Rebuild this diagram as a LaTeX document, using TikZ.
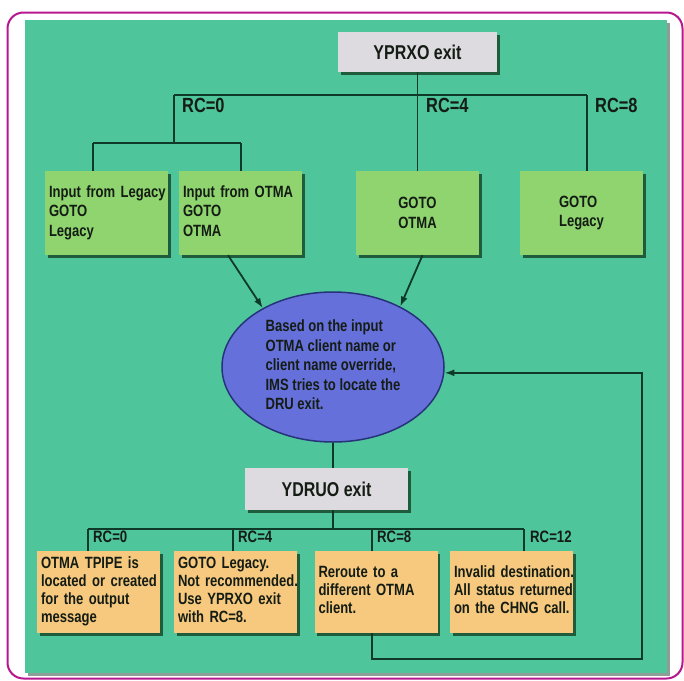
\documentclass[tikz,border=0pt]{standalone}
\usepackage{fontspec}
\setmainfont{Liberation Sans}[FakeStretch=0.8]
\usetikzlibrary{shapes.geometric,arrows.meta,shadows}
\definecolor{cpanel}{HTML}{4FC59C}
\definecolor{cpshadow}{HTML}{8E9E96}
\definecolor{clgreen}{HTML}{8FD46F}
\definecolor{corng}{HTML}{F6C97F}
\definecolor{cellfill}{HTML}{6670DA}
\definecolor{cellline}{HTML}{26337A}
\definecolor{cgray}{HTML}{DDDAE0}
\definecolor{cframe}{HTML}{B8188F}
\definecolor{cwire}{HTML}{0F3A2A}
\definecolor{cshade}{HTML}{1E5C3C}
\definecolor{cink}{HTML}{141C14}
\newcommand{\boxlines}[1]{\begin{tabular}{@{}l@{}}#1\end{tabular}}
\begin{document}
\begin{tikzpicture}[x=1pt,y=-1pt,
  wire/.style={draw=cwire, line width=1.8pt},
  arr/.style={wire, -{Latex[length=10pt,width=7pt]}},
  boxbase/.style={rectangle, draw=none, text=cink,
    drop shadow={shadow xshift=2.5pt, shadow yshift=-2.5pt, fill=cshade, opacity=1}},
  graybox/.style={boxbase, fill=cgray, inner sep=0pt, font=\bfseries\fontsize{20}{22}\selectfont},
  gbox/.style={boxbase, fill=clgreen, minimum width=123, minimum height=84, inner ysep=0pt},
  obox/.style={boxbase, fill=corng, minimum width=123, minimum height=82, inner ysep=0pt,
    text width=115, align=left, inner xsep=4pt, font=\bfseries\fontsize{16.3}{18}\selectfont},
  lbody/.style={text width=115, align=left, inner xsep=4pt, font=\bfseries\fontsize{16.3}{19.5}\selectfont},
  cbody/.style={align=left, font=\bfseries\fontsize{16.3}{19.5}\selectfont},
  rclab/.style={anchor=north west, inner sep=0pt, text=cink, font=\bfseries\fontsize{20.5}{21}\selectfont},
  rcsmall/.style={anchor=north west, inner sep=0pt, text=cink, font=\bfseries\fontsize{16.5}{18}\selectfont}
]
\useasboundingbox (0,0) rectangle (684,680);
\fill[white] (0,0) rectangle (684,680);
% frame and panel
\draw[cframe, line width=2pt, rounded corners=16pt] (7.5,12.5) rectangle (682.5,678.5);
\fill[cpshadow] (28,23) rectangle (670,676);
\fill[cpanel] (25,20) rectangle (667,673);

% top part
\node[graybox, minimum width=159, minimum height=40] (yp) at (417.5,52) {YPRXO exit};
\node[gbox, lbody] (b1) at (106.5,213) {\boxlines{Input from Legacy\\GOTO\\Legacy}};
\node[gbox, lbody] (b2) at (240.5,213) {\boxlines{Input from OTMA\\GOTO\\OTMA}};
\node[gbox, cbody] (b3) at (417.5,213) {GOTO\\OTMA};
\node[gbox, cbody] (b4) at (581.5,213) {GOTO\\Legacy};

\coordinate (tl) at (174,95);
\coordinate (tr) at (587,95);
\coordinate (sj) at (174,143);
\coordinate (sl) at (93,143);
\coordinate (sr) at (241,143);
\draw[wire] (yp.south) -- (b3.north);
\draw[wire] (tl) -- (tr);
\draw[wire] (tl) -- (sj);
\draw[wire] (sl) -- (sr);
\draw[wire] (sl) -- (sl |- b1.north);
\draw[wire] (sr) -- (sr |- b2.north);
\draw[wire] (tr) -- (tr |- b4.north);
\node[rclab] (l0) at (182,98) {RC=0};
\node[rclab] (l4) at (426,98) {RC=4};
\node[rclab] (l8) at (595,98) {RC=8};

% ellipse
\node[ellipse, fill=cellfill, draw=cellline, line width=1.5pt, minimum width=222, minimum height=150,
  inner sep=0pt, text=cink, font=\bfseries\fontsize{16.3}{19.5}\selectfont] (el) at (333,367)
  {\boxlines{Based on the input\\OTMA client name or\\client name override,\\IMS tries to locate the\\DRU exit.}};
\draw[arr] ([xshift=-12.5pt]b2.south) -- (el.140);
\draw[arr] ([xshift=5pt]b3.south) -- (el.42);

% bottom part
\node[graybox, minimum width=163, minimum height=42] (yd) at (326.5,489) {YDRUO exit};
\node[obox] (bA) at (98.5,592) {\boxlines{OTMA TPIPE is\\located or created\\for the output\\message}};
\node[obox] (bB) at (235.5,592) {\boxlines{GOTO Legacy.\\Not recommended.\\Use YPRXO exit\\with RC=8.}};
\node[obox] (bC) at (376,592) {\boxlines{Reroute to a\\different OTMA\\client.}};
\node[obox] (bD) at (511.5,592) {\boxlines{Invalid destination.\\All status returned\\on the CHNG call.}};

\draw[wire] (el.south) -- (el.south |- yd.north);
\coordinate (bj) at (333,529);
\coordinate (c0) at (88,529);
\coordinate (c4) at (233,529);
\coordinate (c8) at (372,529);
\coordinate (c12) at (524,529);
\draw[wire] (yd.south -| bj) -- (bj);
\draw[wire] (c0) -- (c12);
\draw[wire] (c0) -- (c0 |- bA.north);
\draw[wire] (c4) -- (c4 |- bB.north);
\draw[wire] (c8) -- (c8 |- bC.north);
\draw[wire] (c12) -- (c12 |- bD.north);
\node[rcsmall] (m0) at (93,531) {RC=0};
\node[rcsmall] (m4) at (238,531) {RC=4};
\node[rcsmall] (m8) at (377,531) {RC=8};
\node[rcsmall] (m12) at (530,531) {RC=12};

% feedback loop
\coordinate (f1) at (372,659);
\coordinate (f2) at (642,659);
\draw[arr] (bC.south -| c8) -- (f1) -- (f2) -- (f2 |- el.-3) -- (el.-3);
\end{tikzpicture}
\end{document}
